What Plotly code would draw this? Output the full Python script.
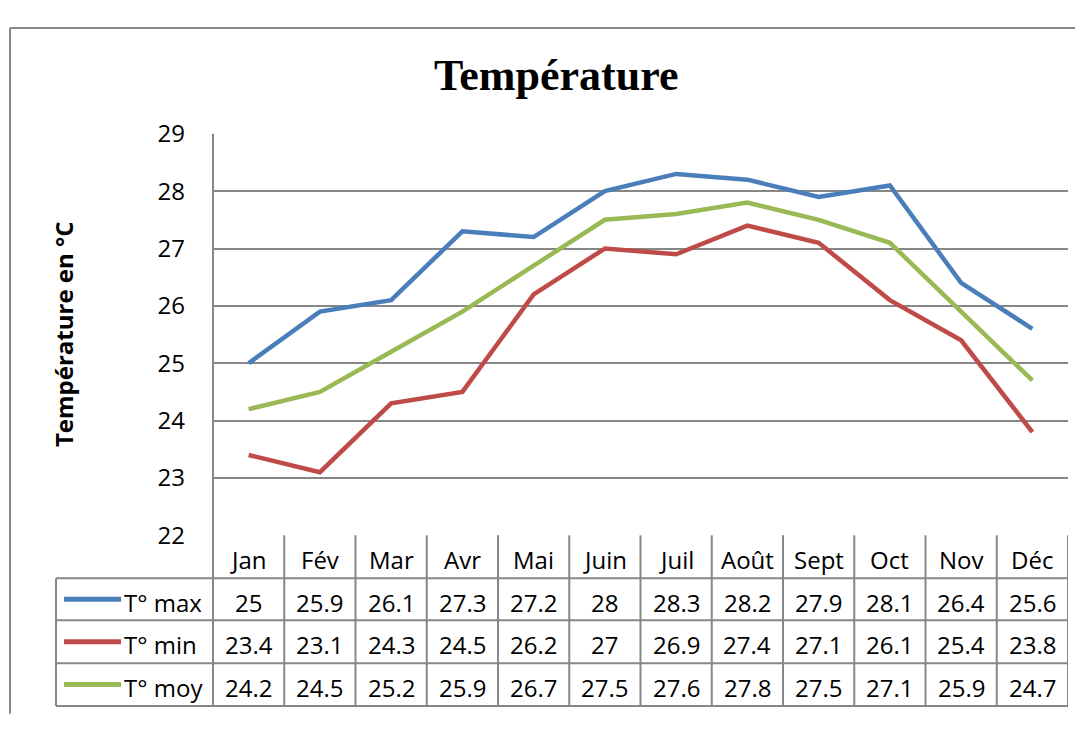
import plotly.graph_objects as go

months = ["Jan", "Fév", "Mar", "Avr", "Mai", "Juin", "Juil", "Août", "Sept", "Oct", "Nov", "Déc"]
t_max = [25, 25.9, 26.1, 27.3, 27.2, 28, 28.3, 28.2, 27.9, 28.1, 26.4, 25.6]
t_min = [23.4, 23.1, 24.3, 24.5, 26.2, 27, 26.9, 27.4, 27.1, 26.1, 25.4, 23.8]
t_moy = [24.2, 24.5, 25.2, 25.9, 26.7, 27.5, 27.6, 27.8, 27.5, 27.1, 25.9, 24.7]
series_names = ["T° max", "T° min", "T° moy"]
series_values = [t_max, t_min, t_moy]
colors = ["#4A7EBB", "#BE4B48", "#98B954"]
y_ticks = [22, 23, 24, 25, 26, 27, 28, 29]

OFF = 8  # page body margin
W, H = 1083 - 2 * OFF, 730 - 2 * OFF
FONT = "Open Sans"
GRID = "#878787"
FS = 24


def py(p):
    """page pixel y (from top) -> paper y"""
    return 1 - (p - OFF) / H


def px(p):
    return (p - OFF) / W


fig = go.Figure()
for name, vals, c in zip(series_names, series_values, colors):
    fig.add_trace(go.Scatter(x=months, y=vals, mode="lines", name=name,
                             line=dict(color=c, width=4.5), showlegend=False))

plot_left, plot_right, plot_top, plot_bottom = 213, 1068, 121, 542
row_lines = [587, 631, 676, 721]
legend_left = 56

shapes = []
# outer border
shapes.append(dict(type="line", xref="paper", yref="paper", x0=px(10), x1=1.01, y0=py(10), y1=py(10),
                   line=dict(color=GRID, width=2)))
shapes.append(dict(type="line", xref="paper", yref="paper", x0=px(10), x1=px(10), y0=py(10), y1=-0.01,
                   line=dict(color=GRID, width=2)))
# table horizontal lines
for r in row_lines:
    shapes.append(dict(type="line", xref="paper", yref="paper", x0=px(legend_left), x1=px(plot_right),
                       y0=py(r), y1=py(r), line=dict(color=GRID, width=2)))
# legend column left border
shapes.append(dict(type="line", xref="paper", yref="paper", x0=px(legend_left), x1=px(legend_left),
                   y0=py(row_lines[0]), y1=py(row_lines[-1]), line=dict(color=GRID, width=2)))
# y-axis line extended through table
shapes.append(dict(type="line", xref="paper", yref="paper", x0=px(plot_left), x1=px(plot_left),
                   y0=py(plot_top), y1=py(row_lines[-1]), line=dict(color=GRID, width=2)))
# column boundaries
for i in range(len(months)):
    xb = i + 0.5
    shapes.append(dict(type="line", xref="x", yref="paper", x0=xb, x1=xb,
                       y0=py(plot_bottom), y1=py(row_lines[-1]), line=dict(color=GRID, width=2)))

annotations = []
# header month labels
for m in months:
    annotations.append(dict(x=m, y=py(567), xref="x", yref="paper", text=m, showarrow=False,
                            font=dict(family=FONT, size=FS, color="#000"), xanchor="center", yanchor="middle"))
# rows
row_centers = [(row_lines[k] + row_lines[k + 1]) / 2 for k in range(3)]
for k, (name, vals, c) in enumerate(zip(series_names, series_values, colors)):
    yc = row_centers[k]
    for m, v in zip(months, vals):
        annotations.append(dict(x=m, y=py(yc + 3), xref="x", yref="paper", text=f"{v:g}", showarrow=False,
                                font=dict(family=FONT, size=FS, color="#000"), xanchor="center", yanchor="middle"))
    annotations.append(dict(x=px(122), y=py(yc + 3), xref="paper", yref="paper", text=name, showarrow=False,
                            font=dict(family=FONT, size=FS, color="#000"), xanchor="left", yanchor="middle"))
    shapes.append(dict(type="line", xref="paper", yref="paper", x0=px(64), x1=px(121),
                       y0=py(yc), y1=py(yc), line=dict(color=c, width=5)))

# title
annotations.append(dict(x=px(556), y=py(60), xref="paper", yref="paper", text="<b>Température</b>",
                        showarrow=False, font=dict(family="Liberation Serif", size=44, color="#000"),
                        xanchor="center", yanchor="middle"))
# y-axis title
annotations.append(dict(x=px(63), y=py(331), xref="paper", yref="paper", text="<b>Température en °C</b>",
                        showarrow=False, textangle=-90, font=dict(family=FONT, size=24, color="#000"),
                        xanchor="center", yanchor="middle"))

fig.update_layout(
    width=W, height=H,
    margin=dict(l=0, r=0, t=0, b=0),
    paper_bgcolor="white", plot_bgcolor="white",
    xaxis=dict(domain=[px(plot_left), px(plot_right)], type="category", categoryarray=months,
               range=[-0.5, len(months) - 0.5], showticklabels=False, showgrid=False, zeroline=False,
               showline=False, ticks=""),
    yaxis=dict(domain=[py(plot_bottom), py(plot_top)], range=[22, 29], tickvals=y_ticks,
               showgrid=True, gridcolor=GRID, gridwidth=2, zeroline=False, showline=False,
               ticks="", ticklabelstandoff=27,
               tickfont=dict(family=FONT, size=FS, color="#000")),
    shapes=shapes,
    annotations=annotations,
)

fig.write_html("out.html")
